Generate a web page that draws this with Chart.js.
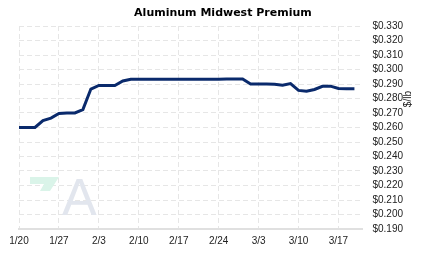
<!DOCTYPE html>
<html>
<head>
<meta charset="utf-8">
<script src="https://cdn.jsdelivr.net/npm/chart.js@4"></script>
<style>
    html, body { margin: 0; padding: 0; background: #fff; }
    #wrap { width: 423px; height: 257px; position: relative; }
</style>
</head>
<body>
<div id="wrap"><canvas id="priceChart"></canvas></div>
<script>
// business days, 1/20 .. 3/20
const days = [
    '1/20', '1/21', '1/22', '1/23', '1/24',
    '1/27', '1/28', '1/29', '1/30', '1/31',
    '2/3', '2/4', '2/5', '2/6', '2/7',
    '2/10', '2/11', '2/12', '2/13', '2/14',
    '2/17', '2/18', '2/19', '2/20', '2/21',
    '2/24', '2/25', '2/26', '2/27', '2/28',
    '3/3', '3/4', '3/5', '3/6', '3/7',
    '3/10', '3/11', '3/12', '3/13', '3/14',
    '3/17', '3/18', '3/19', '3/20'
];

// $/lb
const premium = [
    0.2600, 0.2600, 0.2600, 0.2648, 0.2665,
    0.2697, 0.2700, 0.2700, 0.2723, 0.2865,
    0.2890, 0.2890, 0.2890, 0.2921, 0.2933,
    0.2933, 0.2933, 0.2933, 0.2933, 0.2933,
    0.2933, 0.2933, 0.2933, 0.2933, 0.2933,
    0.2933, 0.2935, 0.2935, 0.2934, 0.2900,
    0.2900, 0.2900, 0.2898, 0.2891, 0.2903,
    0.2856, 0.2850, 0.2862, 0.2884, 0.2885,
    0.2869, 0.2868, 0.2868, null
];

const yMin = 0.19;
const yMax = 0.33;
const yStep = 0.01;

const chartTitle = 'Aluminum Midwest Premium';
const unitLabel = '$/lb';

// заголовок, подпись оси и водяной знак
const extras = {
    id: 'extras',
    beforeDatasetsDraw(chart) {
        const c = chart.ctx;
        c.save();
        // водяной знак
        c.fillStyle = '#daf4e9';
        c.beginPath();
        c.moveTo(30, 177);
        c.lineTo(59, 177);
        c.lineTo(50, 191);
        c.lineTo(40, 191);
        c.lineTo(44, 184);
        c.lineTo(30, 184);
        c.closePath();
        c.fill();
        c.fillStyle = '#e2e6ee';
        c.font = '52px "Liberation Sans"';
        c.textAlign = 'left';
        c.textBaseline = 'alphabetic';
        c.fillText('A', 62, 215);
        c.restore();
    },
    afterDraw(chart) {
        const c = chart.ctx;
        const area = chart.chartArea;
        c.save();
        c.fillStyle = '#000';
        c.font = 'bold 11px "DejaVu Sans"';
        c.textAlign = 'center';
        c.textBaseline = 'middle';
        c.fillText(chartTitle, chart.width * 0.527, 13);

        c.font = '10px "Liberation Sans"';
        c.fillStyle = '#222';
        c.translate(408, area.top + (area.bottom - area.top) * 0.36);
        c.rotate(-Math.PI / 2);
        c.fillText(unitLabel, 0, 0);
        c.restore();
    }
};

document.addEventListener('DOMContentLoaded', () => {
    const ctx = document.getElementById('priceChart').getContext('2d');
    new Chart(ctx, {
        type: 'line',
        data: {
            labels: days,
            datasets: [{
                data: premium,
                borderColor: '#0a2a6c',
                borderWidth: 3,
                pointRadius: 0,
                fill: false,
                tension: 0,
                spanGaps: false
            }]
        },
        options: {
            responsive: true,
            maintainAspectRatio: false,
            animation: false,
            layout: {
                padding: { top: 26, left: 19, right: 10, bottom: 4 }
            },
            plugins: {
                legend: { display: false },
                tooltip: { enabled: false },
                title: { display: false }
            },
            scales: {
                x: {
                    offset: false,
                    afterBuildTicks: axis => {
                        axis.ticks = axis.ticks.filter((t, i) => i % 5 === 0);
                    },
                    ticks: {
                        autoSkip: false,
                        maxRotation: 0,
                        padding: 6,
                        color: '#222',
                        font: { family: 'Liberation Sans', size: 10 },
                        callback: function (value) {
                            return this.getLabelForValue(value);
                        }
                    },
                    grid: {
                        color: '#e6e6e6',
                        drawTicks: false
                    },
                    border: {
                        display: true,
                        color: '#e0e0e0',
                        width: 2,
                        dash: [5, 3]
                    }
                },
                y: {
                    position: 'right',
                    min: yMin,
                    max: yMax,
                    ticks: {
                        stepSize: yStep,
                        autoSkip: false,
                        padding: 10,
                        color: '#222',
                        font: { family: 'Liberation Sans', size: 10 },
                        callback: v => '$' + v.toFixed(3)
                    },
                    grid: {
                        color: '#e6e6e6',
                        drawTicks: false
                    },
                    border: { display: false, dash: [5, 3] }
                }
            }
        },
        plugins: [extras]
    });
});
</script>
</body>
</html>
